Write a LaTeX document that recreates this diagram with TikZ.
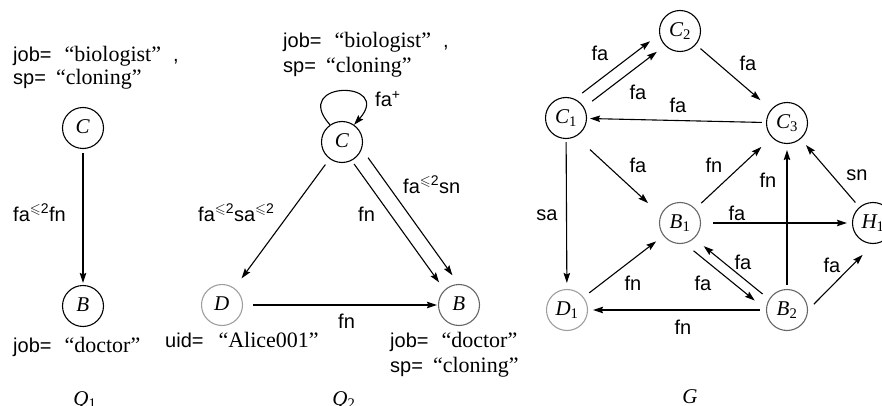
\documentclass[tikz,border=0pt]{standalone}
\usepackage{fontspec}
\usepackage{amssymb}
\setmainfont{Liberation Sans}
\newfontfamily\serifrm{Liberation Serif}
\usetikzlibrary{arrows.meta,calc}

% quoted attribute values, vertex names, bounded-length superscript
\newcommand\qv[1]{{\serifrm\fontsize{22}{24}\selectfont “#1”}}
\newcommand\vn[2]{{\serifrm\itshape #1}{\serifrm\textsubscript{#2}}}
\newcommand\uptwo{\textsuperscript{$\leqslant$2}}

\tikzset{
  vtx/.style={circle, draw, line width=1.1pt, minimum size=41pt, inner sep=0pt,
              font=\fontsize{21}{21}\selectfont},
  vblack/.style={vtx, draw=black},
  vgray/.style={vtx, draw=black!60},
  vlight/.style={vtx, draw=black!38},
  arr/.style={line width=1.1pt, -{Stealth[length=10pt,width=6.5pt,inset=1.5pt]}},
  lbl/.style={font=\fontsize{20}{20}\selectfont, inner sep=0pt},
  attr/.style={font=\fontsize{20}{24}\selectfont, inner sep=0pt, anchor=base west},
  gcaption/.style={font=\fontsize{21}{21}\selectfont, inner sep=0pt, anchor=base},
}

\begin{document}
\begin{tikzpicture}[x=1pt,y=-1pt]
\clip (0,0) rectangle (882,406);

% ---------------- Q1 ----------------
\node[vblack] (qC) at (83,128) {\vn{C}{}};
\node[vblack] (qB) at (83,306) {\vn{B}{}};
\draw[arr, shorten <=4pt, shorten >=2pt] (qC) -- (qB);
\node[lbl, anchor=base west] (qlab) at (13,221) {fa\uptwo fn};
\node[attr] (qa1) at (13,62) {job=\hspace{13pt}\qv{biologist}\hspace{12pt},};
\node[attr] (qa2) at (13,85) {sp=\hspace{10pt}\qv{cloning}};
\node[attr] (qa3) at (13,352) {job=\hspace{13pt}\qv{doctor}};
\node[gcaption] (qname) at (85,405) {\vn{Q}{1}};

% ---------------- Q2 ----------------
\node[vblack] (rC) at (342,142) {\vn{C}{}};
\node[vlight] (rD) at (222,305) {\vn{D}{}};
\node[vgray]  (rB) at (459,305) {\vn{B}{}};
\draw[arr] (rC.125) .. controls (290,80) and (394,80) .. (rC.55);
\draw[arr, shorten <=7pt, shorten >=12pt] (rC) -- (rD);
\draw[arr, shorten <=10pt, shorten >=1pt] (rD) -- (rB);
\draw[arr, shorten <=25pt, shorten >=30pt]
  ($(rC)!3pt!-90:(rB)$) -- ($(rB)!3pt!90:(rC)$);
\draw[arr, shorten <=28pt, shorten >=28pt]
  ($(rC)!12pt!90:(rB)$) -- ($(rB)!12pt!-90:(rC)$);
\node[lbl, anchor=base west] (rl1) at (375,107) {fa\textsuperscript{+}};
\node[lbl, anchor=base west] (rl2) at (198,221) {fa\uptwo sa\uptwo};
\node[lbl, anchor=base west] (rl3) at (358,221) {fn};
\node[lbl, anchor=base west] (rl4) at (403,193) {fa\uptwo sn};
\node[lbl, anchor=base west] (rl5) at (338,328) {fn};
\node[attr] (ra1) at (283,48) {job=\hspace{13pt}\qv{biologist}\hspace{12pt},};
\node[attr] (ra2) at (283,73) {sp=\hspace{10pt}\qv{cloning}};
\node[attr] (ra3) at (165,347) {uid=\hspace{15pt}\qv{Alice001}};
\node[attr] (ra4) at (390,347) {job=\hspace{13pt}\qv{doctor}};
\node[attr] (ra5) at (390,372) {sp=\hspace{10pt}\qv{cloning}};
\node[gcaption] (rname) at (344,405) {\vn{Q}{2}};

% ---------------- G ----------------
\node[vblack] (C1) at (566,118) {\vn{C}{1}};
\node[vblack] (C2) at (680,31)  {\vn{C}{2}};
\node[vblack] (C3) at (787,123) {\vn{C}{3}};
\node[vgray]  (B1) at (680,223) {\vn{B}{1}};
\node[vgray]  (B2) at (787,310) {\vn{B}{2}};
\node[vlight] (D1) at (567,310) {\vn{D}{1}};
\node[vblack] (H1) at (873,223) {\vn{H}{1}};

\draw[arr, shorten <=28pt, shorten >=30pt]
  ($(C1)!10pt!90:(C2)$) -- ($(C2)!10pt!-90:(C1)$);
\draw[arr, shorten <=31pt, shorten >=31pt]
  ($(C1)!2.5pt!-90:(C2)$) -- ($(C2)!2.5pt!90:(C1)$);
\draw[arr, shorten <=6pt, shorten >=14pt] (C2) -- (C3);
\draw[arr, shorten <=4pt, shorten >=3pt] (C3) -- (C1);
\draw[arr, shorten <=39pt, shorten >=37pt]
  ($(C1)!7pt!-90:(B1)$) -- ($(B1)!7pt!90:(C1)$);
\draw[arr, shorten <=8pt, shorten >=14pt] (B1) -- (C3);
\draw[arr, shorten <=4pt, shorten >=6pt] (B2) -- (C3);
\draw[arr, shorten <=6pt, shorten >=8pt] (H1) -- (C3);
\draw[arr, shorten <=3pt, shorten >=6pt] (C1) -- (D1);
\draw[arr, shorten <=12pt, shorten >=5pt] (B1) -- (H1);
\draw[arr, shorten <=7pt, shorten >=9pt] (D1) -- (B1);
\draw[arr, shorten <=28pt, shorten >=31pt]
  ($(B1)!13pt!-90:(B2)$) -- ($(B2)!13pt!90:(B1)$);
\draw[arr, shorten <=29pt, shorten >=33pt]
  ($(B2)!3pt!90:(B1)$) -- ($(B1)!3pt!-90:(B2)$);
\draw[arr, shorten <=23pt, shorten >=30pt]
  ($(B2)!15pt!-90:(H1)$) -- ($(H1)!15pt!90:(B2)$);
\draw[arr, shorten <=6pt, shorten >=5pt] (B2) -- (D1);

\node[lbl] (g1)  at (600,53)  {fa};
\node[lbl] (g2)  at (638,92)  {fa};
\node[lbl] (g3)  at (748,63)  {fa};
\node[lbl] (g4)  at (678,105) {fa};
\node[lbl] (g5)  at (638,165) {fa};
\node[lbl] (g6)  at (714,165) {fn};
\node[lbl] (g7)  at (768,180) {fn};
\node[lbl] (g8)  at (857,175) {sn};
\node[lbl] (g9)  at (547,215) {sa};
\node[lbl] (g10) at (737,213) {fa};
\node[lbl] (g11) at (743,262) {fa};
\node[lbl] (g12) at (832,265) {fa};
\node[lbl] (g13) at (633,283) {fn};
\node[lbl] (g14) at (703,283) {fa};
\node[lbl] (g15) at (683,327) {fn};
\node[gcaption] (gname) at (690,403) {{\serifrm\itshape G}};
\end{tikzpicture}
\end{document}
